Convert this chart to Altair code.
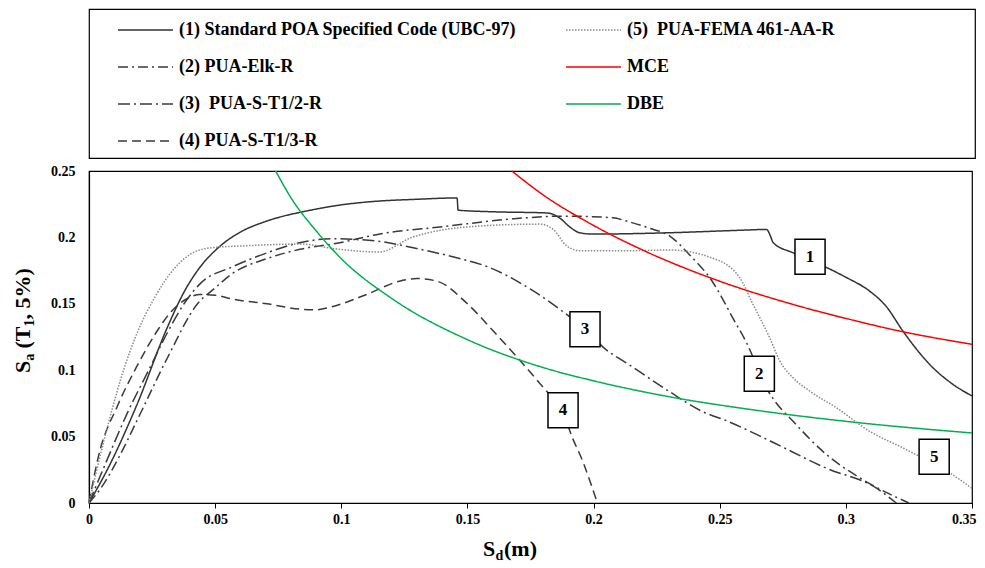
import altair as alt
import pandas as pd

FONT = "Liberation Serif"

# ---- curve data (Sd in m, Sa in g) ----
sd_1 = [0, 0.0075, 0.019, 0.031, 0.038, 0.043, 0.052, 0.06, 0.07, 0.077, 0.084, 0.1, 0.1153, 0.13, 0.1455,
        0.1459, 0.1463, 0.16, 0.1815, 0.1866, 0.1905, 0.1945, 0.2, 0.23, 0.26, 0.2686, 0.27, 0.2712, 0.279,
        0.2858, 0.2916, 0.3, 0.3094, 0.316, 0.3226, 0.3332, 0.3424, 0.35]
sa_1 = [0, 0.026, 0.074, 0.132, 0.160, 0.175, 0.1935, 0.204, 0.212, 0.216, 0.219, 0.2245, 0.2274, 0.2287, 0.2297,
        0.2297, 0.2205, 0.2193, 0.2184, 0.2146, 0.208, 0.2035, 0.2025, 0.2035, 0.2055, 0.206, 0.2015, 0.196, 0.1885,
        0.183, 0.178, 0.17, 0.1596, 0.148, 0.1295, 0.1044, 0.0894, 0.0806]

sd_2 = [0, 0.005, 0.012, 0.019, 0.031, 0.043, 0.05, 0.057, 0.0705, 0.0836, 0.0994, 0.1153, 0.14, 0.168, 0.188,
        0.2077, 0.213, 0.222, 0.2302, 0.238, 0.247, 0.255, 0.2627, 0.2657, 0.271, 0.279, 0.292, 0.3055, 0.316, 0.325]
sa_2 = [0, 0.012, 0.035, 0.062, 0.109, 0.150, 0.162, 0.173, 0.184, 0.191, 0.196, 0.2026, 0.208, 0.214, 0.216,
        0.2148, 0.2123, 0.207, 0.201, 0.187, 0.167, 0.14, 0.112, 0.097, 0.079, 0.0617, 0.037, 0.019, 0.008, 0.0]

sd_3 = [0, 0.0075, 0.0155, 0.0234, 0.031, 0.038, 0.044, 0.057, 0.07, 0.0836, 0.0967, 0.105, 0.1153, 0.1285, 0.145,
        0.1589, 0.175, 0.1893, 0.1966, 0.204, 0.215, 0.23, 0.243, 0.253, 0.27, 0.292, 0.312, 0.32]
sa_3 = [0, 0.034, 0.069, 0.099, 0.128, 0.151, 0.165, 0.178, 0.188, 0.196, 0.199, 0.1985, 0.197, 0.1922, 0.185,
        0.1772, 0.161, 0.142, 0.131, 0.117, 0.103, 0.084, 0.069, 0.0617, 0.0467, 0.0264, 0.0113, 0.0]

sd_4 = [0, 0.0036, 0.0115, 0.019, 0.027, 0.033, 0.039, 0.044, 0.05, 0.057, 0.0705, 0.0836, 0.09, 0.0967, 0.11,
        0.123, 0.13, 0.138, 0.15, 0.16, 0.171, 0.1813, 0.1879, 0.1906, 0.196, 0.2015]
sa_4 = [0, 0.034, 0.074, 0.103, 0.1295, 0.145, 0.154, 0.157, 0.1565, 0.1535, 0.15, 0.146, 0.1455, 0.148, 0.157,
        0.167, 0.169, 0.167, 0.15, 0.13, 0.107, 0.0843, 0.0699, 0.0542, 0.03, 0.0]

sd_5 = [0, 0.0062, 0.0127, 0.0194, 0.026, 0.034, 0.043, 0.05, 0.06, 0.0836, 0.0994, 0.115, 0.128, 0.155, 0.1787,
        0.184, 0.1894, 0.1945, 0.2143, 0.23, 0.247, 0.2579, 0.2632, 0.2698, 0.2738, 0.279, 0.2857, 0.2962,
        0.3094, 0.3226, 0.3286, 0.3411, 0.35]
sa_5 = [0, 0.049, 0.094, 0.1295, 0.1546, 0.177, 0.19, 0.1925, 0.1935, 0.195, 0.191, 0.189, 0.2, 0.2086, 0.21,
        0.206, 0.1935, 0.19, 0.19, 0.1905, 0.1845, 0.1697, 0.1496, 0.1245, 0.107, 0.0944, 0.0843, 0.0718,
        0.054, 0.0415, 0.0356, 0.0228, 0.011]

sd_mce = [0.1676, 0.18, 0.2, 0.22, 0.25, 0.28, 0.3, 0.32, 0.35]
sa_mce = [0.25, 0.232, 0.209, 0.19, 0.167, 0.149, 0.139, 0.13, 0.1195]

sd_dbe = [0.074, 0.08, 0.09, 0.1, 0.12, 0.15, 0.18, 0.2, 0.23, 0.26, 0.3, 0.35]
sa_dbe = [0.25, 0.23, 0.205, 0.184, 0.154, 0.123, 0.102, 0.092, 0.08, 0.071, 0.0615, 0.0527]

series_keys = ["s1", "s2", "s3", "s4", "s5", "MCE", "DBE"]
series_sd = [sd_1, sd_2, sd_3, sd_4, sd_5, sd_mce, sd_dbe]
series_sa = [sa_1, sa_2, sa_3, sa_4, sa_5, sa_mce, sa_dbe]
legend_labels = ["(1) Standard POA Specified Code (UBC-97)", "(2) PUA-Elk-R", "(3)\u00a0 PUA-S-T1/2-R",
                 "(4) PUA-S-T1/3-R", "(5)\u00a0 PUA-FEMA 461-AA-R", "MCE", "DBE"]

# curve labels (boxed numbers)
tag_text = ["1", "2", "3", "4", "5"]
tag_sd = [0.2858, 0.2657, 0.1966, 0.1879, 0.335]
tag_sa = [0.1854, 0.0973, 0.1308, 0.0699, 0.0349]

x_ticks = [0, 0.05, 0.1, 0.15, 0.2, 0.25, 0.3, 0.35]
y_ticks = [0, 0.05, 0.1, 0.15, 0.2, 0.25]

# ---- styles ----
series_colors = ["#333333", "#3a3a3a", "#3a3a3a", "#3a3a3a", "#8a8a8a", "#ff0000", "#00b050"]
series_dash = [[1, 0], [10, 4, 2, 4], [12, 4, 2, 4], [9, 5], [1.5, 1.5], [1, 0], [1, 0]]
series_width = [1.5, 1.5, 1.5, 1.5, 1.2, 1.6, 1.6]

rows = []
for key, xs, ys in zip(series_keys, series_sd, series_sa):
    for i, (a, b) in enumerate(zip(xs, ys)):
        rows.append({"series": key, "sd": a, "sa": b, "i": i})
curves_df = pd.DataFrame(rows)

color_scale = alt.Scale(domain=series_keys, range=series_colors)
dash_scale = alt.Scale(domain=series_keys, range=series_dash)
width_scale = alt.Scale(domain=series_keys, range=series_width)

W, H = 883, 332
xs_ = alt.Scale(domain=[0, 0.35], nice=False, zero=False)
ys_ = alt.Scale(domain=[0, 0.25], nice=False, zero=False)
x_axis = alt.Axis(values=x_ticks, format="~g", title=None, grid=False, tickSize=5, labelPadding=4,
                  domainColor="black", tickColor="black", labelFlush=False,
                  labelAlign=alt.ExprRef("datum.value >= 0.349 ? 'right' : 'center'"),
                  labelOffset=alt.ExprRef("datum.value >= 0.349 ? 4 : 0"))
y_axis = alt.Axis(values=y_ticks, format="~g", title=None, grid=False, ticks=False, labelPadding=14,
                  domainColor="black")

X = alt.X("sd:Q", scale=xs_, axis=x_axis)
Y = alt.Y("sa:Q", scale=ys_, axis=y_axis)

curves = alt.Chart(curves_df).mark_line(strokeCap="butt", interpolate="monotone").encode(
    x=X, y=Y,
    color=alt.Color("series:N", scale=color_scale, legend=None),
    strokeDash=alt.StrokeDash("series:N", scale=dash_scale, legend=None),
    strokeWidth=alt.StrokeWidth("series:N", scale=width_scale, legend=None),
    order=alt.Order("i:Q"),
)

tags_df = pd.DataFrame({"t": tag_text, "sd": tag_sd, "sa": tag_sa})
boxes = alt.Chart(tags_df).mark_point(
    shape="M-0.86,-1L0.86,-1L0.86,1L-0.86,1Z", size=1225, filled=True, fill="white",
    stroke="black", strokeWidth=1.5, opacity=1,
).encode(x=X, y=Y)
nums = alt.Chart(tags_df).mark_text(font=FONT, fontWeight="bold", fontSize=17, color="black",
                                    baseline="middle", align="center").encode(x=X, y=Y, text="t:N")


def piece(text, size, x, y, dx=0, dy=0, angle=0):
    return alt.Chart(pd.DataFrame({"t": [text]})).mark_text(
        font=FONT, fontWeight="bold", fontSize=size, align="left", baseline="alphabetic",
        dx=dx, dy=dy, angle=angle, color="black",
    ).encode(x=alt.value(x), y=alt.value(y), text="t:N")


# axis titles with subscripts
xt = [
    piece("S", 22, 394, 385),
    piece("d", 14, 406.5, 389),
    piece("(m)", 22, 415, 385),
]
yt = [
    piece("S", 22, -59, 202, angle=270),
    piece("a", 14, -59, 202, dx=12.3, dy=4, angle=270),
    piece("(T", 22, -59, 202, dx=24.5, angle=270),
    piece("1", 14, -59, 202, dx=46.5, dy=4, angle=270),
    piece(", 5%)", 22, -59, 202, dx=53.5, angle=270),
]

main = alt.layer(curves, boxes, nums, *xt, *yt).properties(width=W, height=H)

# ---- legend panel ----
LW, LH = 886, 149
leg_rows = []
for k, (key, lab) in enumerate(zip(series_keys, legend_labels)):
    col = 0 if k < 4 else 1
    row = k if k < 4 else k - 4
    x1 = 29 + col * 448
    leg_rows.append({"series": key, "label": lab, "x1": x1, "x2": x1 + 55,
                     "tx": x1 + 61, "ly": 21 + row * 37})
leg_df = pd.DataFrame(leg_rows)

leg_lines = alt.Chart(leg_df).mark_rule(strokeCap="butt").encode(
    x=alt.X("x1:Q", scale=None, axis=None), x2="x2:Q",
    y=alt.Y("ly:Q", scale=None, axis=None),
    color=alt.Color("series:N", scale=color_scale, legend=None),
    strokeDash=alt.StrokeDash("series:N", scale=dash_scale, legend=None),
    strokeWidth=alt.StrokeWidth("series:N", scale=width_scale, legend=None),
)
leg_text = alt.Chart(leg_df).mark_text(font=FONT, fontWeight="bold", fontSize=18, align="left",
                                       baseline="middle", color="black").encode(
    x=alt.X("tx:Q", scale=None, axis=None), y=alt.Y("ly:Q", scale=None, axis=None), text="label:N")
legend = alt.layer(leg_lines, leg_text).properties(width=LW, height=LH)

chart = alt.vconcat(legend, main, spacing=13, bounds="flush").properties(
    padding={"left": 3, "top": 0, "right": 0, "bottom": 0}, background="white"
).configure_view(stroke="black", strokeWidth=1.2).configure_axis(
    labelFont=FONT, labelFontWeight="bold", labelFontSize=14, labelColor="black",
    domainWidth=1.2,
)

chart.save("out.html", embed_options={"renderer": "svg", "actions": False})
